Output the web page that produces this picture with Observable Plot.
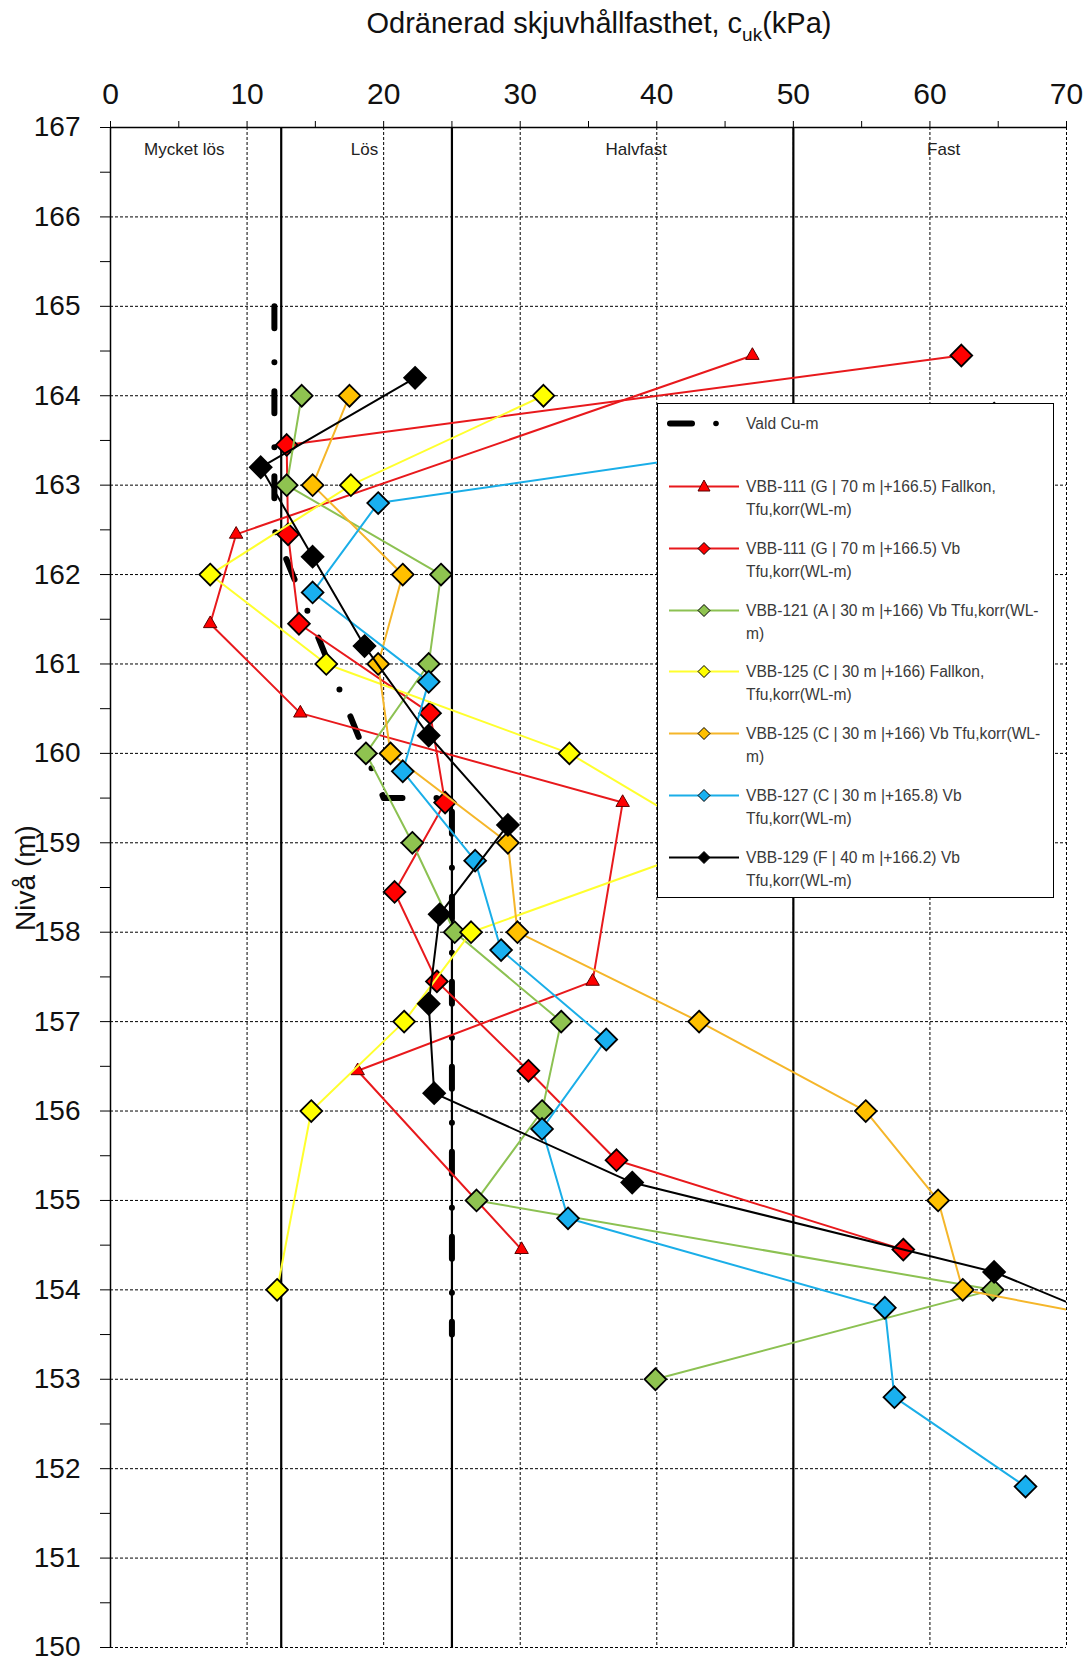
<!DOCTYPE html>
<html>
<head>
<meta charset="utf-8">
<script src="https://cdn.jsdelivr.net/npm/d3@7"></script>
<script src="https://cdn.jsdelivr.net/npm/@observablehq/plot@0.6"></script>
<style>
  body { margin: 0; background: #fff; font-family: "Liberation Sans", Arial, sans-serif; }
  #wrap { position: relative; width: 1091px; height: 1663px; overflow: hidden; }
  #title { height: 53px; box-sizing: border-box; padding-left: 107px; text-align: center;
           font-size: 29px; line-height: 46px; color: #111; white-space: nowrap; }
  #title .sub { font-size: 19px; position: relative; top: 8px; }
  #ylabel { position: absolute; left: 26px; top: 878px; transform: translate(-50%, -50%) rotate(-90deg);
            font-size: 28px; color: #111; white-space: nowrap; }
  #legend { position: absolute; left: 657px; top: 403px; width: 397px; height: 495px; box-sizing: border-box;
            background: #fff; border: 1.3px solid #000; }
  .entry { position: absolute; left: 0; width: 100%; }
  .entry svg { position: absolute; left: 0; top: 0; }
  .entry .txt { position: absolute; left: 88px; top: 0; font-size: 15.6px; line-height: 23px; color: #3a3a3a; white-space: nowrap; }
</style>
</head>
<body>
<div id="wrap">
  <div id="title">Odränerad skjuvhållfasthet, c<span class="sub">uk</span>(kPa)</div>
  <div id="chart"></div>
  <div id="ylabel">Nivå (m)</div>
  <div id="legend"></div>
</div>
<script>
// ---------- data ----------
const xLabelTicks = [0, 10, 20, 30, 40, 50, 60, 70];
const xMinorTicks = [0, 5, 10, 15, 20, 25, 30, 35, 40, 45, 50, 55, 60, 65, 70];
const xGrid = [10, 20, 30, 40, 50, 60, 70];
const yGrid = [150, 151, 152, 153, 154, 155, 156, 157, 158, 159, 160, 161, 162, 163, 164, 165, 166];
const yTicks = [150, 150.5, 151, 151.5, 152, 152.5, 153, 153.5, 154, 154.5, 155, 155.5, 156, 156.5,
                157, 157.5, 158, 158.5, 159, 159.5, 160, 160.5, 161, 161.5, 162, 162.5, 163, 163.5,
                164, 164.5, 165, 165.5, 166, 166.5, 167];
const zoneBounds = [12.5, 25, 50];
const zoneNames = ["Mycket lös", "Lös", "Halvfast", "Fast"];
const zoneCenters = [5.4, 18.6, 38.5, 61.0];
const zoneLabelLevel = [166.75, 166.75, 166.75, 166.75];

// Vald Cu-m
const cuMCu = [12, 12, 20, 25, 25];
const cuMLevel = [165, 162.5, 159.5, 159.5, 153.5];

// VBB-111 Fallkon
const vbb111fLevel = [164.45, 162.45, 161.45, 160.45, 159.45, 157.45, 156.45, 154.45];
const vbb111fCu = [47.0, 9.2, 7.3, 13.9, 37.5, 35.3, 18.1, 30.1];
// VBB-111 Vb
const vbb111vLevel = [164.45, 163.45, 162.45, 161.45, 160.45, 159.45, 158.45, 157.45, 156.45, 155.45, 154.45];
const vbb111vCu = [62.3, 12.9, 13.0, 13.8, 23.4, 24.5, 20.8, 23.9, 30.6, 37.05, 58.05];
// VBB-121 Vb
const vbb121Level = [164, 163, 162, 161, 160, 159, 158, 157, 156, 155, 154, 153];
const vbb121Cu = [14.0, 12.9, 24.2, 23.3, 18.7, 22.1, 25.2, 33.0, 31.6, 26.8, 64.6, 39.9];
// VBB-125 Fallkon
const vbb125fLevel = [164, 163, 162, 161, 160, 159, 158, 157, 156, 154];
const vbb125fCu = [31.7, 17.6, 7.3, 15.8, 33.6, 44.6, 26.4, 21.5, 14.7, 12.2];
// VBB-125 Vb
const vbb125vLevel = [164, 163, 162, 161, 160, 159, 158, 157, 156, 155, 154, 153];
const vbb125vCu = [17.5, 14.8, 21.4, 19.6, 20.5, 29.1, 29.8, 43.1, 55.3, 60.6, 62.4, 97];
// VBB-127 Vb
const vbb127Level = [163.8, 162.8, 161.8, 160.8, 159.8, 158.8, 157.8, 156.8, 155.8, 154.8, 153.8, 152.8, 151.8];
const vbb127Cu = [64.7, 19.6, 14.8, 23.3, 21.4, 26.7, 28.6, 36.3, 31.6, 33.5, 56.7, 57.4, 67.0];
// VBB-129 Vb
const vbb129Level = [164.2, 163.2, 162.2, 161.2, 160.2, 159.2, 158.2, 157.2, 156.2, 155.2, 154.2, 153.2];
const vbb129Cu = [22.3, 11.0, 14.8, 18.6, 23.3, 29.1, 24.1, 23.3, 23.7, 38.2, 64.7, 80.5];

const seriesNames = [
  "VBB-111 (G | 70 m |+166.5) Fallkon,\nTfu,korr(WL-m)",
  "VBB-111 (G | 70 m |+166.5) Vb\nTfu,korr(WL-m)",
  "VBB-121 (A | 30 m |+166) Vb Tfu,korr(WL-\nm)",
  "VBB-125 (C | 30 m |+166) Fallkon,\nTfu,korr(WL-m)",
  "VBB-125 (C | 30 m |+166) Vb Tfu,korr(WL-\nm)",
  "VBB-127 (C | 30 m |+165.8) Vb\nTfu,korr(WL-m)",
  "VBB-129 (F | 40 m |+166.2) Vb\nTfu,korr(WL-m)"
];
const seriesLine = ["#e8191c", "#e8191c", "#8cc152", "#ffff2e", "#f5b62a", "#1aaee8", "#000000"];
const seriesFill = ["#ff0000", "#ff0000", "#8fc350", "#ffff00", "#ffc000", "#19b0f0", "#000000"];
const seriesSymbol = ["triangle", "diamond2", "diamond2", "diamond2", "diamond2", "diamond2", "diamond2"];
const seriesLevels = [vbb111fLevel, vbb111vLevel, vbb121Level, vbb125fLevel, vbb125vLevel, vbb127Level, vbb129Level];
const seriesCu = [vbb111fCu, vbb111vCu, vbb121Cu, vbb125fCu, vbb125vCu, vbb127Cu, vbb129Cu];

// ---------- build ----------
const font = '"Liberation Sans", Arial, sans-serif';
const cuM = cuMCu.map((c, i) => ({cu: c, level: cuMLevel[i]}));
const zones = zoneNames.map((n, i) => ({name: n, cu: zoneCenters[i], level: zoneLabelLevel[i]}));

const seriesMarks = [];
seriesNames.forEach((name, i) => {
  const data = seriesLevels[i].map((l, j) => ({level: l, cu: seriesCu[i][j]}));
  seriesMarks.push(Plot.line(data, {x: "cu", y: "level", stroke: seriesLine[i], strokeWidth: 2, clip: true}));
  const isTri = seriesSymbol[i] === "triangle";
  seriesMarks.push(Plot.dot(data, {
    x: "cu", y: "level", symbol: seriesSymbol[i], r: isTri ? 5 : 9.8,
    fill: seriesFill[i], stroke: isTri ? "#5a0000" : "#000", strokeWidth: isTri ? 1 : 1.8, clip: true
  }));
});

const chart = Plot.plot({
  width: 1091,
  height: 1610,
  marginTop: 74,
  marginLeft: 110,
  marginRight: 25,
  marginBottom: 16,
  style: {fontFamily: font, background: "#fff", color: "#111", overflow: "visible"},
  x: {domain: [0, 70]},
  y: {domain: [150, 167]},
  marks: [
    Plot.ruleX(xGrid, {stroke: "#000", strokeWidth: 1, strokeDasharray: "3,2"}),
    Plot.ruleY(yGrid, {stroke: "#000", strokeWidth: 1, strokeDasharray: "3,2"}),
    Plot.ruleX(zoneBounds, {stroke: "#000", strokeWidth: 2.2}),
    Plot.ruleX([0], {stroke: "#000", strokeWidth: 1.5}),
    Plot.ruleY([167], {stroke: "#000", strokeWidth: 1.5}),
    Plot.axisX({anchor: "top", ticks: xMinorTicks, tickFormat: d => xLabelTicks.includes(d) ? d : "",
                tickSize: 7, tickPadding: 17, fontSize: 30, label: null, stroke: "#000"}),
    Plot.axisY({anchor: "left", ticks: yTicks, tickFormat: d => Number.isInteger(d) ? d : "",
                tickSize: 10, tickPadding: 20, fontSize: 28, label: null, stroke: "#000"}),
    Plot.text(zones, {x: "cu", y: "level", text: "name", fontSize: 17, fill: "#222"}),
    Plot.line(cuM, {x: "cu", y: "level", stroke: "#000", strokeWidth: 6,
                    strokeDasharray: "22,34,0,29", strokeLinecap: "round"}),
    ...seriesMarks
  ]
});
document.getElementById("chart").appendChild(chart);

// ---------- legend (HTML overlay) ----------
const legend = document.getElementById("legend");
function addEntry(top, svgInner, text) {
  const e = document.createElement("div");
  e.className = "entry";
  e.style.top = top + "px";
  e.innerHTML = `<svg width="88" height="23" viewBox="0 0 88 23">${svgInner}</svg>` +
                `<div class="txt">${text.split("\n").join("<br>")}</div>`;
  legend.appendChild(e);
}
addEntry(8,
  `<line x1="12" y1="11.5" x2="34" y2="11.5" stroke="#000" stroke-width="6" stroke-linecap="round"/>` +
  `<circle cx="58" cy="11.5" r="2.8" fill="#000"/>`, "Vald Cu-m");
seriesNames.forEach((name, i) => {
  const top = 71 + i * 61.8;
  let sym;
  if (seriesSymbol[i] === "triangle") {
    sym = `<path d="M46,5 L52,16 L40,16 Z" fill="${seriesFill[i]}" stroke="#5a0000" stroke-width="1"/>`;
  } else {
    sym = `<path d="M46,5.5 L52,11.5 L46,17.5 L40,11.5 Z" fill="${seriesFill[i]}" stroke="#000" stroke-width="1"/>`;
  }
  addEntry(top,
    `<line x1="11" y1="11.5" x2="81" y2="11.5" stroke="${seriesLine[i]}" stroke-width="2"/>` + sym, name);
});
</script>
</body>
</html>
